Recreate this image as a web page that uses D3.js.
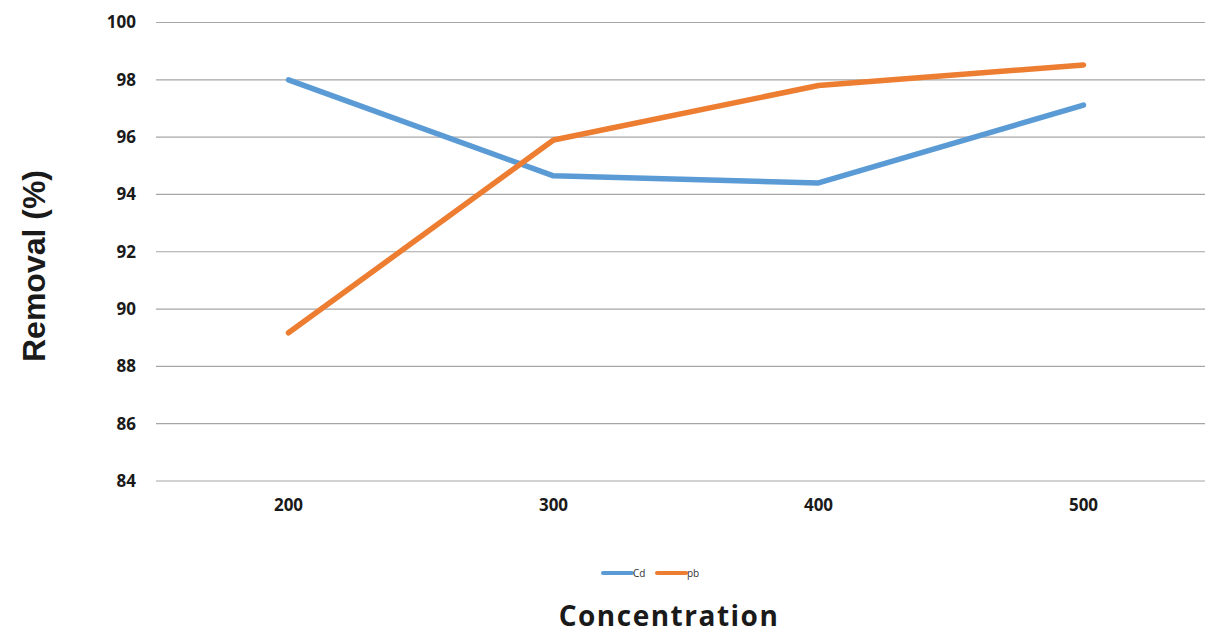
<!DOCTYPE html>
<html>
<head>
<meta charset="utf-8">
<script src="https://cdn.jsdelivr.net/npm/d3@7"></script>
<style>
  html, body { margin: 0; padding: 0; background: #fff; }
  svg { display: block; }
</style>
</head>
<body>
<svg id="chart" width="1205" height="634"></svg>
<script>
// Concentration levels (x categories)
const categories = ["200", "300", "400", "500"];
// Removal percentages for each metal
const cdValues = [98.0, 94.65, 94.4, 97.12];
const pbValues = [89.17, 95.9, 97.8, 98.52];
// Y-axis ticks
const yTicks = [84, 86, 88, 90, 92, 94, 96, 98, 100];
const seriesNames = ["Cd", "pb"];
const seriesColors = ["#5B9BD5", "#ED7D31"];

const labelFont = "'Open Sans', Lato, sans-serif";
const svg = d3.select("#chart");

const x = d3.scaleBand().domain(categories).range([156, 1216]);
const y = d3.scaleLinear().domain([84, 100]).range([481, 22.5]);

// Horizontal gridlines
svg.append("g")
  .selectAll("line")
  .data(yTicks)
  .join("line")
  .attr("x1", 156).attr("x2", 1216)
  .attr("y1", d => y(d)).attr("y2", d => y(d))
  .attr("stroke", "#a6a6a6")
  .attr("stroke-width", 1.2);

// Y axis labels
const yAxis = d3.axisLeft(y).tickValues(yTicks).tickSize(0).tickPadding(0);
svg.append("g")
  .attr("transform", "translate(136,0)")
  .call(yAxis)
  .call(g => g.select(".domain").remove())
  .call(g => g.selectAll("text")
    .attr("font-family", labelFont)
    .attr("font-weight", "bold")
    .attr("font-size", 17)
    .attr("fill", "#1a1a1a"));

// X axis labels
const xAxis = d3.axisBottom(x).tickSize(0).tickPadding(0);
svg.append("g")
  .attr("transform", "translate(0,499)")
  .call(xAxis)
  .call(g => g.select(".domain").remove())
  .call(g => g.selectAll("text")
    .attr("font-family", labelFont)
    .attr("font-weight", "bold")
    .attr("font-size", 17)
    .attr("fill", "#1a1a1a"));

// Series lines
const line = d3.line()
  .x((d, i) => x(categories[i]) + x.bandwidth() / 2)
  .y(d => y(d));

[cdValues, pbValues].forEach((vals, k) => {
  svg.append("path")
    .datum(vals)
    .attr("d", line)
    .attr("fill", "none")
    .attr("stroke", seriesColors[k])
    .attr("stroke-width", 5.5)
    .attr("stroke-linecap", "round")
    .attr("stroke-linejoin", "round");
});

// Legend
const legendX = [603, 657];
seriesNames.forEach((name, k) => {
  const g = svg.append("g").attr("transform", `translate(${legendX[k]},573)`);
  g.append("line")
    .attr("x1", 0).attr("x2", 29)
    .attr("y1", 0).attr("y2", 0)
    .attr("stroke", seriesColors[k])
    .attr("stroke-width", 4)
    .attr("stroke-linecap", "round");
  g.append("text")
    .attr("x", 30).attr("y", 3.5)
    .attr("font-family", labelFont)
    .attr("font-size", 10)
    .attr("fill", "#333")
    .text(name);
});

// Axis titles
svg.append("text")
  .attr("x", 669).attr("y", 626)
  .attr("text-anchor", "middle")
  .attr("font-family", labelFont)
  .attr("font-weight", "bold")
  .attr("font-size", 28)
  .attr("letter-spacing", 1.5)
  .attr("fill", "#1a1a1a")
  .text("Concentration");

svg.append("text")
  .attr("transform", "translate(45,266) rotate(-90)")
  .attr("text-anchor", "middle")
  .attr("font-family", "'Liberation Sans', Arial, sans-serif")
  .attr("font-weight", "bold")
  .attr("font-size", 32)
  .attr("fill", "#1a1a1a")
  .text("Removal (%)");
</script>
</body>
</html>
